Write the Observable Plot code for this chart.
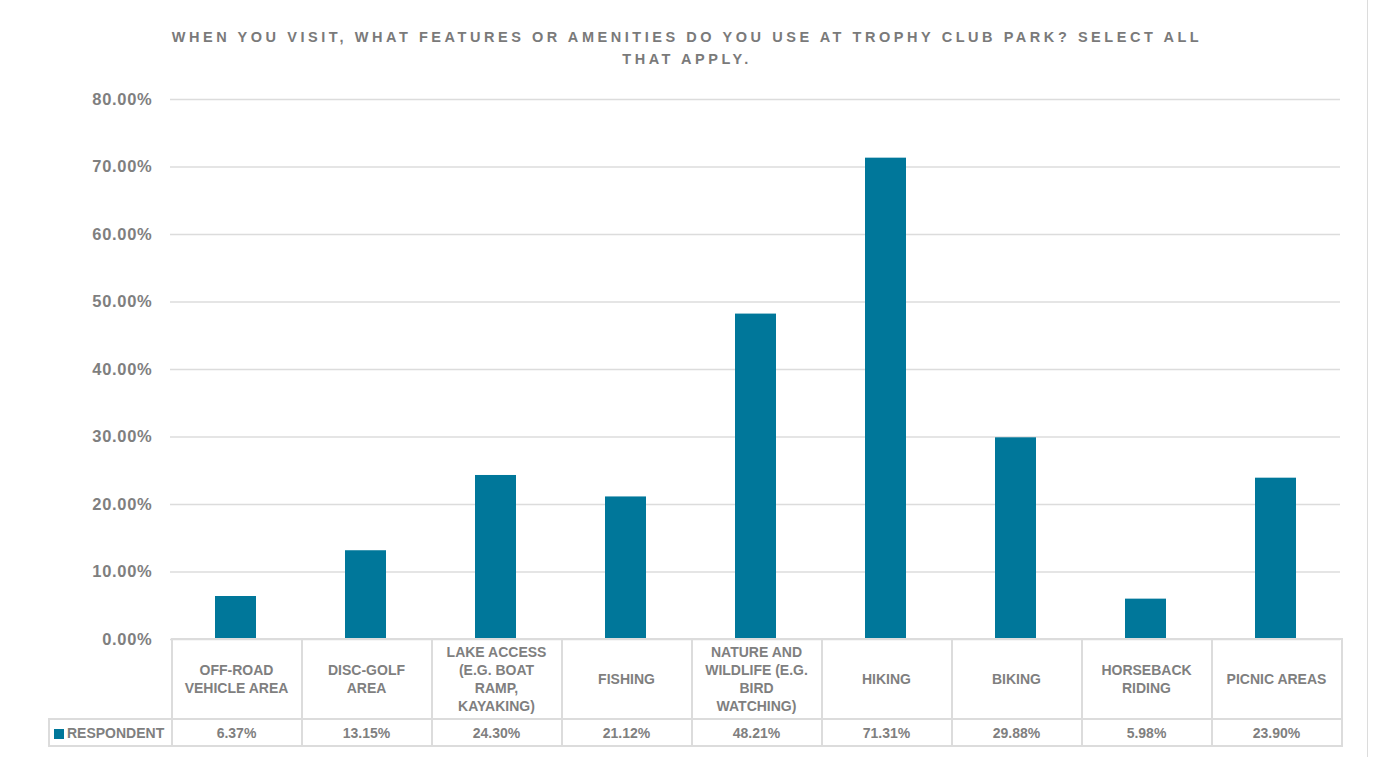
<!DOCTYPE html>
<html>
<head>
<meta charset="utf-8">
<script src="https://cdn.jsdelivr.net/npm/d3@7"></script>
<script src="https://cdn.jsdelivr.net/npm/@observablehq/plot@0.6"></script>
<style>
  html, body { margin: 0; padding: 0; background: #fff; }
  #wrap { position: relative; width: 1374px; height: 757px; overflow: hidden; font-family: "Liberation Sans", Arial, sans-serif; }
  #title { position: absolute; left: 0; width: 1374px; top: 26px; text-align: center; font-family: "Liberation Sans", Arial, sans-serif; font-weight: 700; font-size: 14.5px; letter-spacing: 3.55px; line-height: 22px; color: #7a7a7a; }
  #chart { position: absolute; left: 0; top: 0; }
  #tbl { position: absolute; border-collapse: collapse; table-layout: fixed; color: #7f7f7f; font-weight: 700; font-size: 14px; }
  #tbl td { border: 2px solid #dcdcdc; text-align: center; padding: 0; line-height: 18px; }
  #tbl td.blank { border: none; }
  #tbl td.legend { text-align: left; padding-left: 4px; white-space: nowrap; }
  .sw { display: inline-block; width: 10px; height: 10px; background: #00779a; margin-right: 3px; vertical-align: -1px; }
  #edge { position: absolute; left: 1367px; top: 0; width: 1px; height: 757px; background: #dcdcdc; }
</style>
</head>
<body>
<div id="wrap">
  <div id="title"></div>
  <div id="chart"></div>
  <div id="edge"></div>
</div>
<script>
const titleLines = ["WHEN YOU VISIT, WHAT FEATURES OR AMENITIES DO YOU USE AT TROPHY CLUB PARK? SELECT ALL", "THAT APPLY."];
const categories = ["OFF-ROAD VEHICLE AREA", "DISC-GOLF AREA", "LAKE ACCESS (E.G. BOAT RAMP, KAYAKING)", "FISHING", "NATURE AND WILDLIFE (E.G. BIRD WATCHING)", "HIKING", "BIKING", "HORSEBACK RIDING", "PICNIC AREAS"];
const categoryLines = [["OFF-ROAD", "VEHICLE AREA"], ["DISC-GOLF", "AREA"], ["LAKE ACCESS", "(E.G. BOAT", "RAMP,", "KAYAKING)"], ["FISHING"], ["NATURE AND", "WILDLIFE (E.G.", "BIRD", "WATCHING)"], ["HIKING"], ["BIKING"], ["HORSEBACK", "RIDING"], ["PICNIC AREAS"]];
const seriesName = "RESPONDENT";
const values = [6.37, 13.15, 24.30, 21.12, 48.21, 71.31, 29.88, 5.98, 23.90];
const yTicks = [0, 10, 20, 30, 40, 50, 60, 70, 80];

document.getElementById("title").innerHTML = titleLines.join("<br>");

const data = categories.map((c, i) => ({category: c, value: values[i]}));
const teal = "#00779a";

const chart = Plot.plot({
  width: 1374,
  height: 655,
  marginLeft: 170,
  marginRight: 34,
  marginTop: 99,
  marginBottom: 16,
  style: {background: "transparent", fontFamily: "'Liberation Sans', Arial, sans-serif", letterSpacing: "0.7px"},
  x: {domain: categories, paddingInner: 0.685, paddingOuter: 0.3425, axis: null},
  y: {domain: [0, 80], ticks: yTicks, axis: null},
  marks: [
    Plot.gridY(yTicks, {stroke: "#dcdcdc", strokeOpacity: 1, strokeWidth: 1.5}),
    Plot.axisY(yTicks, {tickSize: 0, tickPadding: 18, tickFormat: d => d.toFixed(2) + "%", fontSize: 16.5, fontWeight: 700, fill: "#7f7f7f", label: null}),
    Plot.barY(data, {x: "category", y: "value", fill: teal})
  ]
});
document.getElementById("chart").appendChild(chart);

// data table aligned with the x band scale
const xs = chart.scale("x");
const step = xs.step;
const firstLeft = xs.apply(categories[0]) - (step - xs.bandwidth) / 2;
const tableLeft = 48;
const tbl = document.createElement("table");
tbl.id = "tbl";
const yScale = chart.scale("y");
tbl.style.left = tableLeft + "px";
tbl.style.top = (yScale.apply(0) - 1) + "px";
const colgroup = document.createElement("colgroup");
const c0 = document.createElement("col"); c0.style.width = (firstLeft - tableLeft) + "px"; colgroup.appendChild(c0);
categories.forEach(() => { const c = document.createElement("col"); c.style.width = step + "px"; colgroup.appendChild(c); });
tbl.appendChild(colgroup);
const tr1 = document.createElement("tr");
tr1.style.height = "80px";
const blank = document.createElement("td"); blank.className = "blank"; tr1.appendChild(blank);
categoryLines.forEach(lines => { const td = document.createElement("td"); td.innerHTML = lines.join("<br>"); tr1.appendChild(td); });
tbl.appendChild(tr1);
const tr2 = document.createElement("tr");
tr2.style.height = "27px";
const lg = document.createElement("td"); lg.className = "legend";
lg.innerHTML = '<span class="sw"></span>' + seriesName;
tr2.appendChild(lg);
values.forEach(v => { const td = document.createElement("td"); td.textContent = v.toFixed(2) + "%"; tr2.appendChild(td); });
tbl.appendChild(tr2);
tbl.style.width = (firstLeft - tableLeft + step * categories.length) + "px";
document.getElementById("wrap").appendChild(tbl);
</script>
</body>
</html>
